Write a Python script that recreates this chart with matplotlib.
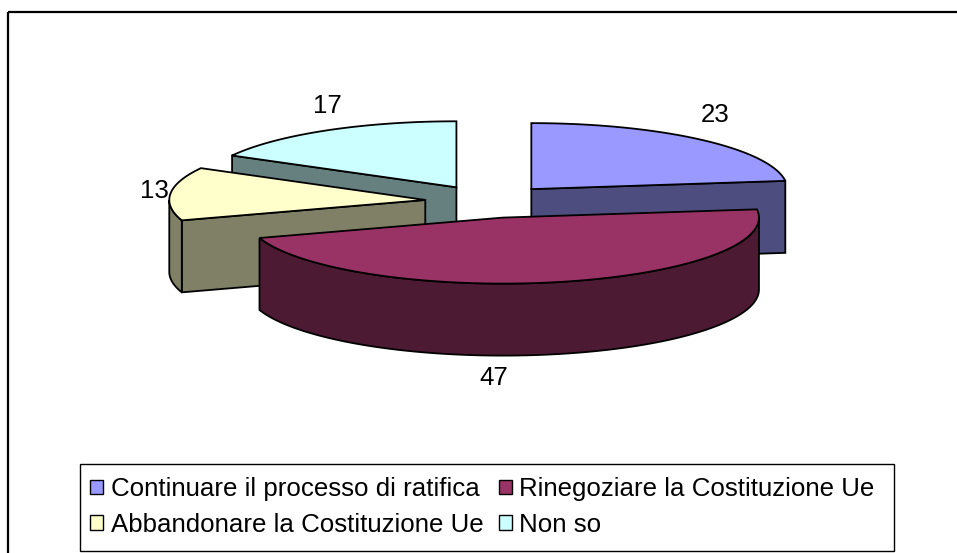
import numpy as np
import matplotlib.pyplot as plt
from matplotlib.patches import Polygon, Rectangle, Patch

# data
labels = ['Continuare il processo di ratifica', 'Rinegoziare la Costituzione Ue',
          'Abbandonare la Costituzione Ue', 'Non so']
values = [23, 47, 13, 17]
top_colors = ['#9999FF', '#993366', '#FFFFCC', '#CCFFFF']
side_colors = ['#4D4D80', '#4D1A33', '#808066', '#668080']

# label tweaks (pixels), Excel puts the front label straight under the slice
label_nudge = [(0, 0), (-70, -8), (6, 0), (12, 4)]

plt.rcParams['font.family'] = ['Liberation Sans', 'DejaVu Sans']
FS = 18.6

fig = plt.figure(figsize=(9.57, 5.53), dpi=100)
ax = fig.add_axes([0, 0, 1, 1])
ax.set_xlim(0, 957)
ax.set_ylim(553, 0)
ax.axis('off')

# pie geometry in pixels
cx, cy = 489, 201.5
a, b, h = 256, 66, 72
explode = 0.25


def arc(t0, t1, ox, oy, depth=0, n=120):
    t = np.linspace(t0, t1, n)
    return np.column_stack([ox + a * np.sin(t), oy - b * np.cos(t) + depth])


fracs = np.array(values) / sum(values)
ends = np.cumsum(fracs) * 2 * np.pi
starts = ends - fracs * 2 * np.pi

slices = []
for i in range(len(values)):
    t0, t1 = starts[i], ends[i]
    mid = (t0 + t1) / 2
    ox = cx + explode * a * np.sin(mid)
    oy = cy - explode * b * np.cos(mid)
    slices.append((oy, i, t0, t1, mid, ox))

# back to front
for oy, i, t0, t1, mid, ox in sorted(slices):
    kw = dict(edgecolor='black', linewidth=1.3, joinstyle='miter')
    # radial faces facing the viewer
    for t, vis in ((t0, np.sin(t0) < -1e-6), (t1, np.sin(t1) > 1e-6)):
        if vis:
            p = (ox + a * np.sin(t), oy - b * np.cos(t))
            face = [(ox, oy), p, (p[0], p[1] + h), (ox, oy + h)]
            ax.add_patch(Polygon(face, closed=True, facecolor=side_colors[i], **kw))
    # curved outer face (front half only)
    f0, f1 = max(t0, np.pi / 2), min(t1, 3 * np.pi / 2)
    if f1 > f0:
        top = arc(f0, f1, ox, oy)
        bot = arc(f0, f1, ox, oy, h)[::-1]
        ax.add_patch(Polygon(np.vstack([top, bot]), closed=True,
                             facecolor=side_colors[i], **kw))
    # top surface
    pts = np.vstack([[(ox, oy)], arc(t0, t1, ox, oy)])
    ax.add_patch(Polygon(pts, closed=True, facecolor=top_colors[i], **kw))

    # value label
    lx = ox + (a + 22) * np.sin(mid) + label_nudge[i][0]
    ly = oy - (b + 33) * np.cos(mid) + label_nudge[i][1]
    if np.cos(mid) < 0:
        ly += h
    ax.text(lx, ly, str(values[i]), fontsize=FS, ha='center', va='center')

# outer chart frame (only top and left visible)
ax.plot([8, 957], [12, 12], color='black', linewidth=1.6, solid_capstyle='butt')
ax.plot([8, 8], [12, 553], color='black', linewidth=1.6, solid_capstyle='butt')

# legend: entries flow row by row, matplotlib fills column by column
ax.add_patch(Rectangle((80, 464), 814, 87, facecolor='white', edgecolor='black',
                       linewidth=1.0))
handles = [Patch(facecolor=c, edgecolor='black', linewidth=1.0) for c in top_colors]
order = [0, 2, 1, 3]
ax.legend([handles[k] for k in order], [labels[k] for k in order], ncol=2,
          loc='center left', bbox_to_anchor=(90, 507),
          bbox_transform=ax.transData, frameon=False, fontsize=FS,
          handlelength=0.5, handleheight=0.5, handletextpad=0.3,
          columnspacing=0.6, labelspacing=0.45, borderpad=0, borderaxespad=0)

fig.savefig('out.png', dpi=100)
